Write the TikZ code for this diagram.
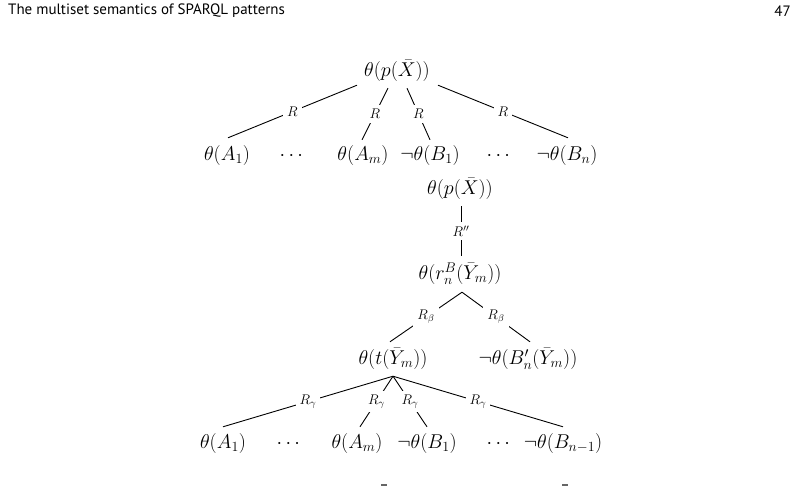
\RequirePackage{fix-cm}
\documentclass[tikz,border=0pt]{standalone}
\usepackage{amsmath}
\usepackage{fontspec}
\newfontfamily\hdrfont{PT Sans}
\usetikzlibrary{calc}
\begin{document}
\begin{tikzpicture}[x=1pt,y=-1pt,
  mnode/.style={font=\fontsize{20}{24}\selectfont, inner sep=0pt, text height=15pt, text depth=5pt},
  elabel/.style={font=\fontsize{14}{16}\selectfont, fill=white, inner sep=4pt},
  edge/.style={line width=0.9pt, black}]
\useasboundingbox (0,0) rectangle (801,486);
% header
\node[anchor=west, inner sep=0pt, font=\hdrfont\fontsize{15}{18}\selectfont] (hdr) at (8,11) {The multiset semantics of SPARQL patterns};
\node[anchor=east, inner sep=0pt, font=\hdrfont\fontsize{15}{18}\selectfont] (pg) at (791,11) {47};
% tree 1
\node[mnode] (r1) at (397,72) {$\theta(p(\bar{X}))$};
\node[mnode] (a1) at (227,156) {$\theta(A_1)$};
\node[mnode] (d1) at (293,156) {$\cdots$};
\node[mnode] (am) at (363,156) {$\theta(A_m)$};
\node[mnode] (b1) at (430,156) {$\neg\theta(B_1)$};
\node[mnode] (d2) at (500,156) {$\cdots$};
\node[mnode] (bn) at (567,156) {$\neg\theta(B_n)$};
\draw[edge] ($(r1.south)+(-40,3)$) -- node[elabel]{$R$} ($(a1.north)+(1,-8)$);
\draw[edge] ($(r1.south)+(-9,6)$) -- node[elabel]{$R$} ($(am.north)+(-1,-6)$);
\draw[edge] ($(r1.south)+(10,6)$) -- node[elabel]{$R$} ($(b1.north)+(0,-6)$);
\draw[edge] ($(r1.south)+(41,3)$) -- node[elabel]{$R$} ($(bn.north)+(1,-8)$);
% tree 2
\node[mnode] (r2) at (460,190) {$\theta(p(\bar{X}))$};
\node[mnode] (rb) at (460,275) {$\theta(r_n^B(\bar{Y}_m))$};
\node[mnode] (t) at (393,360) {$\theta(t(\bar{Y}_m))$};
\node[mnode] (bp) at (528,360) {$\neg\theta(B'_n(\bar{Y}_m))$};
\draw[edge] ($(r2.south)+(1,6)$) -- node[elabel]{$R''$} ($(rb.north)+(1,-9)$);
\draw[edge] ($(rb.south)+(2,7)$) -- node[elabel]{$R_\beta$} ($(t.north)+(-3,-8)$);
\draw[edge] ($(rb.south)+(2,7)$) -- node[elabel]{$R_\beta$} ($(bp.north)+(2,-8)$);
% tree 3
\node[mnode] (c1) at (223,443) {$\theta(A_1)$};
\node[mnode] (cd1) at (290,443) {$\cdots$};
\node[mnode] (cm) at (357,443) {$\theta(A_m)$};
\node[mnode] (cb1) at (427,443) {$\neg\theta(B_1)$};
\node[mnode] (cd2) at (500,443) {$\cdots$};
\node[mnode] (cbn) at (563,443) {$\neg\theta(B_{n-1})$};
\draw[edge] ($(t.south)+(0,6)$) -- node[elabel]{$R_\gamma$} ($(c1.north)+(0,-6)$);
\draw[edge] ($(t.south)+(0,6)$) -- node[elabel]{$R_\gamma$} ($(cm.north)+(3,-6)$);
\draw[edge] ($(t.south)+(0,6)$) -- node[elabel]{$R_\gamma$} ($(cb1.north)+(0,-6)$);
\draw[edge] ($(t.south)+(0,6)$) -- node[elabel]{$R_\gamma$} ($(cbn.north)+(0,-6)$);
% cut-off accents at the bottom edge
\fill[black!60] (381,484) rectangle (387,486);
\fill[black!60] (562,484) rectangle (568,486);
\end{tikzpicture}
\end{document}
